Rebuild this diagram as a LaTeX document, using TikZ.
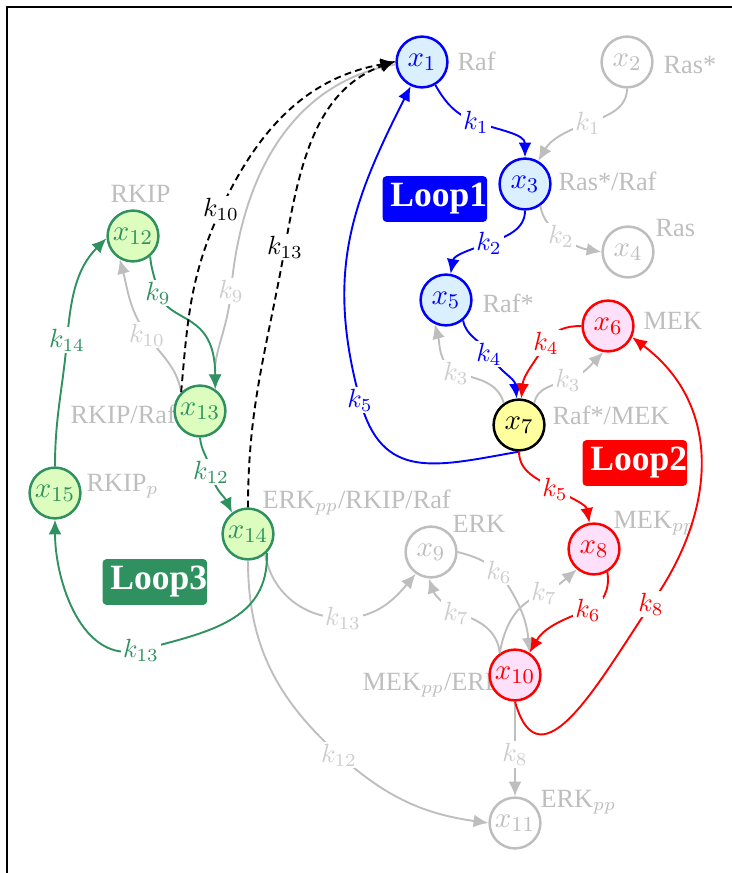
\documentclass[tikz,border=0pt]{standalone}
\usepackage{fontspec}
\setmainfont{Liberation Serif}
\usetikzlibrary{arrows.meta}

\definecolor{lpblue}{RGB}{0,0,255}
\definecolor{lpbluefill}{RGB}{219,240,255}
\definecolor{lpred}{RGB}{255,0,0}
\definecolor{lpredfill}{RGB}{255,224,250}
\definecolor{lpgreen}{RGB}{46,145,95}
\definecolor{lpgreenfill}{RGB}{221,253,190}
\definecolor{lpyellow}{RGB}{255,255,158}
\definecolor{lpgray}{RGB}{190,190,190}
\definecolor{lplabel}{RGB}{205,205,205}

\begin{document}
\begin{tikzpicture}[x=0.38pt,y=0.38pt,
  species/.style={circle,line width=0.95pt,minimum size=19.3pt,inner sep=0pt,
    font=\fontsize{10.95pt}{13pt}\selectfont},
  sblue/.style={species,draw=lpblue,fill=lpbluefill,text=lpblue},
  sred/.style={species,draw=lpred,fill=lpredfill,text=lpred},
  sgreen/.style={species,draw=lpgreen,fill=lpgreenfill,text=lpgreen},
  sgray/.style={species,draw=lpgray,fill=white,text=lpgray},
  syellow/.style={species,draw=black,fill=lpyellow,text=black},
  chem/.style={text=lpgray,anchor=base west,inner sep=0pt},
  rate/.style={fill=white,inner sep=0.8pt},
  grate/.style={rate,text=lplabel},
  conn/.style={line width=0.72pt,-{Latex[length=5.6pt,width=4.9pt]}},
  dconn/.style={conn,black,dash pattern=on 2.6pt off 1.6pt},
  loopbox/.style={anchor=west,text=white,rounded corners=1.5pt,inner xsep=0pt,
    inner ysep=2.8pt,font=\fontsize{13.5pt}{16pt}\selectfont\bfseries},
]
\useasboundingbox (0,0) rectangle (731,-873);

% frame
\draw[line width=0.8pt] (7,-880) -- (7,-7) -- (740,-7);

% species names
\node[chem] (nRaf)    at (457,-71)  {Raf};
\node[chem] (nRasS)   at (663,-74)  {Ras*};
\node[chem] (nRasRaf) at (558,-191) {Ras*/Raf};
\node[chem] (nRas)    at (655,-237) {Ras};
\node[chem] (nRafS)   at (482,-313) {Raf*};
\node[chem] (nMEK)    at (643,-330) {MEK};
\node[chem] (nRafMEK) at (552,-425) {Raf*/MEK};
\node[chem] (nERK)    at (452,-532) {ERK};
\node[chem] (nMEKpp)  at (613,-528) {MEK$_{pp}$};
\node[chem] (nMEKERK) at (362,-690) {MEK$_{pp}$/ERK};
\node[chem] (nERKpp)  at (540,-807) {ERK$_{pp}$};
\node[chem] (nRKIP)   at (110,-203) {RKIP};
\node[chem] (nRKIPRaf) at (70,-424) {RKIP/Raf};
\node[chem] (nRKIPp)  at (86,-491)  {RKIP$_p$};
\node[chem] (nERKRKIP) at (262,-508) {ERK$_{pp}$/RKIP/Raf};

% loop tags
\node[loopbox,fill=lpblue]  (loop1) at (382,-199) {\hspace*{3pt}Loop1};
\node[loopbox,fill=lpred]   (loop2) at (582,-463) {\hspace*{3pt}Loop2};
\node[loopbox,fill=lpgreen] (loop3) at (102,-582) {\hspace*{3pt}Loop3};

% species
\node[sblue]   (x1)  at (422,-62)  {$x_1$};
\node[sgray]   (x2)  at (627,-62)  {$x_2$};
\node[sblue]   (x3)  at (525,-184) {$x_3$};
\node[sgray]   (x4)  at (628,-252) {$x_4$};
\node[sblue]   (x5)  at (446,-300) {$x_5$};
\node[sred]    (x6)  at (608,-326) {$x_6$};
\node[syellow] (x7)  at (519,-425) {$x_7$};
\node[sred]    (x8)  at (594,-549) {$x_8$};
\node[sgray]   (x9)  at (431,-552) {$x_9$};
\node[sred]    (x10) at (515,-675) {$x_{10}$};
\node[sgray]   (x11) at (515,-823) {$x_{11}$};
\node[sgreen]  (x12) at (133,-236) {$x_{12}$};
\node[sgreen]  (x13) at (200,-411) {$x_{13}$};
\node[sgreen]  (x14) at (248,-534) {$x_{14}$};
\node[sgreen]  (x15) at (55,-493)  {$x_{15}$};

% inactive reactions
\draw[conn,lpgray] (x2) to[out=-90,in=20] (588,-123) node[grate]{$k_1$}
  to[out=200,in=60] (x3);
\draw[conn,lpgray] (x3.-55) to[out=-80,in=140] (561,-236) node[grate]{$k_2$}
  to[out=-40,in=170] (x4.west);
\draw[conn,lpgray] (x7.125) to[out=105,in=-15] (456,-373) node[grate]{$k_3$}
  to[out=150,in=-75] (x5.-115);
\draw[conn,lpgray] (x7.55) to[out=80,in=200] (568,-380) node[grate]{$k_3$}
  to[out=20,in=-135] (x6.-100);
\draw[conn,lpgray] (x9.east) to[out=-15,in=140] (499,-572) node[grate]{$k_6$}
  to[out=-55,in=95] (x10.57);
\draw[conn,lpgray] (x10.125) to[out=95,in=-15] (456,-613) node[grate]{$k_7$}
  to[out=145,in=-70] (x9.-95);
\draw[conn,lpgray] (x10.125) to[out=80,in=200] (544,-593) node[grate]{$k_7$}
  to[out=25,in=-140] (x8.-130);
\draw[conn,lpgray] (x10) -- node[grate,pos=0.56]{$k_8$} (x11);
\draw[conn,lpgray] (x14.south) to[out=-90,in=138] (339,-755) node[grate]{$k_{12}$}
  to[out=-42,in=172] (x11.west);
\draw[conn,lpgray] (x14.-50) to[out=-80,in=180] (343,-618) node[grate]{$k_{13}$}
  to[out=0,in=-130] (x9.-125);
\draw[conn,lpgray] (x13.135) to[out=100,in=-55] (147,-335) node[grate]{$k_{10}$}
  to[out=125,in=-75] (x12.-120);
\draw[conn,lpgray] (x1.185) to[out=190,in=85] (231,-291) node[grate]{$k_9$}
  to[out=-95,in=92] (x13.55);

% Loop 1
\draw[conn,lpblue] (x1) to[out=-60,in=160] (476,-122) node[rate]{$k_1$}
  to[out=-20,in=90] (x3);
\draw[conn,lpblue] (x3) to[out=-90,in=20] (489,-243) node[rate]{$k_2$}
  to[out=200,in=80] (x5);
\draw[conn,lpblue] (x5.-50) to[out=-80,in=120] (489,-354) node[rate]{$k_4$}
  to[out=-60,in=95] (x7);
\draw[conn,lpblue] (x7.south) to[out=190,in=-75,looseness=1.3] (360,-400) node[rate]{$k_5$}
  .. controls (326,-274) and (350,-206) .. (x1.-115);

% Loop 2
\draw[conn,lpred] (x6.west) to[out=180,in=60] (546,-343) node[rate]{$k_4$}
  to[out=-120,in=85] (x7);
\draw[conn,lpred] (x7.south) to[out=-90,in=150] (555,-489) node[rate]{$k_5$}
  to[out=-30,in=100] (x8);
\draw[conn,lpred] (x8.-60) to[out=-80,in=20] (588,-610) node[rate]{$k_6$}
  to[out=200,in=60] (x10.57);
\draw[conn,lpred] (x10.south) .. controls (540,-790) and (600,-680) .. (651,-604)
  node[rate]{$k_8$} .. controls (716,-513) and (724,-406) .. (x6.-25);

% Loop 3
\draw[conn,lpgreen] (x14.-45) to[out=-88,in=15,looseness=1.1] (141,-650) node[rate]{$k_{13}$}
  to[out=195,in=-90] (x15);
\draw[conn,lpgreen] (x15) to[out=90,in=-95] (67,-340) node[rate]{$k_{14}$}
  to[out=85,in=225] (x12.185);
\draw[conn,lpgreen] (x12.-50) to[out=-85,in=100] (158,-293) node[rate]{$k_9$}
  .. controls (170,-325) and (215,-310) .. (x13.55);
\draw[conn,lpgreen] (x13.south) to[out=-85,in=100] (211,-472) node[rate]{$k_{12}$}
  to[out=-80,in=115] (x14.127);

% release of Raf
\draw[dconn] (x13.135) to[out=85,in=-115] (221,-209) node[rate]{$k_{10}$}
  to[out=65,in=190] (x1.180);
\draw[dconn] (x14.north) to[out=90,in=-100] (285,-247) node[rate]{$k_{13}$}
  to[out=80,in=200] (x1.178);
\end{tikzpicture}
\end{document}
